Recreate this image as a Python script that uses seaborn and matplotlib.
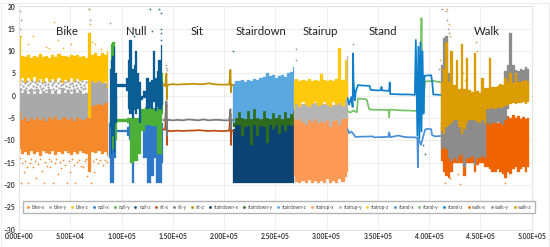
import numpy as np
import pandas as pd
import matplotlib.pyplot as plt
from matplotlib.lines import Line2D
from matplotlib.patches import Rectangle
from matplotlib.ticker import FormatStrFormatter
import seaborn as sns

# -------------------------
# Data
# -------------------------
# bike: envelope of each noisy series
bike_pos = list(range(0, 90000, 3000))
bike_x_lo = [-12, -13, -12.5, -13.2, -12.4, -13, -12.6, -13.4, -12.3, -12.8, -13, -12.4, -13.2, -12.5, -13, -12.3, -12.9, -13.3, -12.5, -13, -12.4, -12.8, -13, -17, -12.5, -12.8, -12.3, -13, -12.5, -13.5]
bike_x_hi = [-3, -3, -3, -3, -3, -3, -3, -3, -3, -3, -3, -3, -3, -3, -3, -3, -3, -3, -3, -3, -3, -3, -3, -3, -1, -1, -1, -1, -1, -1]
bike_y_lo = [-3.5, -5.5, -4.8, -5.6, -5, -5.4, -4.7, -5.5, -5, -5.6, -4.8, -5.3, -4.6, -5.5, -5, -4.7, -5.4, -5, -5.6, -4.8, -5.2, -5.5, -5, -5, -2.2, -2, -1.8, -2.1, -1.6, -1.4]
bike_y_hi = [1.8, 0.6, 1.4, 0.4, 1.2, 0.5, 1.6, 0.4, 1, 0.6, 1.5, 0.5, 1.1, 0.4, 1.7, 0.6, 1.2, 0.5, 1.4, 0.6, 1, 0.5, 0.7, 1, 3.2, 3, 3.3, 3, 2.8, 3]
bike_z_lo = [3, 4, 2.9, 3.9, 3.2, 4.1, 3, 3.8, 2.8, 4, 3.1, 3.7, 3, 4, 2.8, 3.6, 3.1, 4, 3, 3.8, 3.2, 3.6, 3.5, -5, 3.2, 2.8, 3.4, 2.9, 3.1, 1.8]
bike_z_hi = [13.5, 9, 8.6, 9.1, 8.4, 9, 8.7, 9.3, 8.6, 8.9, 8.5, 9.2, 8.7, 9.4, 8.8, 9, 8.6, 9.1, 8.8, 9.2, 8.6, 9, 8.5, 14, 9.2, 9.5, 9, 9.6, 9.2, 10]
# specks in the gap between grey and yellow, and under the orange band
bike_y_speck_x = [600, 1800, 2600, 3700, 4900, 5600, 6800, 7700, 8600, 9800, 10700, 11500, 12900, 13700, 14800, 15600, 16900, 17800, 18500, 19800, 20700, 21600, 22800, 23500, 24900, 25700, 26600, 27900, 28600, 29800, 30500, 31700, 32900, 33600, 34700, 35800, 36500, 37900, 38600, 39800, 40700, 41500, 42800, 43700, 44900, 45600, 46800, 47500, 48900, 49700, 50600, 51800, 52500, 53900, 54700, 55500, 56800, 57700, 58600, 59900, 60800, 61500, 62700, 63800, 64500, 65700]
bike_y_speck_y = [2.6, 1.5, 3.3, 2.1, 1.3, 2.9, 1.8, 3.4, 2.4, 1.2, 2.8, 1.6, 3.2, 2.2, 1.4, 3, 1.9, 2.6, 1.2, 3.4, 2.3, 1.5, 2.9, 1.7, 3.1, 2.5, 1.3, 2.7, 1.9, 3.3, 1.4, 2.4, 2.9, 1.6, 3.4, 2.1, 1.3, 2.8, 1.8, 3.2, 2.4, 1.2, 2.7, 1.6, 3, 2.2, 1.4, 3.3, 1.9, 2.6, 1.3, 2.9, 2.1, 1.5, 3.4, 2.4, 1.7, 3, 1.3, 2.7, 2, 3.3, 1.5, 2.5, 1.8, 3.1]

# null
null_x_pos = [88000, 90000, 92000, 94000, 96000, 104000, 106000, 109000, 111000, 113000, 120000, 122000, 127000, 130000, 133000, 135000, 139000, 140000]
null_x_lo = [-14, -19.6, -19.6, -14, -8.2, -8.2, -9, -10, -19.5, -12, -7, -14, -19.5, -18, -14, -19.5, -19.6, -15]
null_x_hi = [-6, -5, -5, -6, -7.6, -7.6, -7, -6, -6, -6, -6, -6, -6, -6, -6, -6, -6, -6]
null_y_pos = [90000, 92000, 95000, 96000, 104000, 106000, 110000, 114000, 118000, 120000, 125000, 133000, 136000, 139000, 140500]
null_y_lo = [-12, -12, -10, -5.8, -5.8, -6, -15, -14.5, -13, -8, -6.5, -6.8, -13, -13, -4]
null_y_hi = [11.5, 12, 0, -5.2, -5.2, -5, -5, -5, -5, -3, -2.6, -2.8, -2.8, 5, 5]
null_z_pos = [88500, 90000, 91500, 93000, 95000, 96000, 104000, 105500, 107000, 108500, 111000, 112500, 114000, 116000, 118000, 120000, 122000, 125000, 128000, 130000, 132000, 133500, 135000, 137000, 139000, 140000]
null_z_lo = [-7, -13, -9, -12.5, -6, 1.9, 1.9, 1, -3, -4, -5, -3.2, -4, -3, -6, -1, -0.5, -3, -2.8, -3, -1.5, -3.3, -2.5, -3, -3.2, -2]
null_z_hi = [6, 8, 9, 11, 5, 2.7, 2.7, 4, 8, 12.5, 6, 7, 10, 5, 3, 0, 1, 4, 3, 3.5, 10, 4, 5.5, 8, 11.4, 3]

# sit lines, spikes kept as excursions
sit_pos = [140500, 142500, 143800, 144200, 144600, 146000, 150000, 155000, 160000, 165000, 170000, 175000, 180000, 185000, 190000, 195000, 200000, 205000, 206200, 206700, 207200, 209000]
sit_x = [-7.5, -7.6, -2, -11, -7.6, -7.9, -7.9, -7.8, -7.9, -7.8, -7.8, -7.7, -7.8, -7.9, -7.8, -7.9, -7.9, -7.8, -4, -11, -7.8, -7.9]
sit_y = [-5.4, -5.6, -1.2, -9, -5.5, -5.4, -5.5, -5.4, -5.5, -5.3, -5.4, -5.5, -5.3, -5.5, -5.4, -5.4, -5.5, -5.5, -3, -7.5, -5.5, -5.4]
sit_z = [2.5, 2.2, 5, -0.8, 2.3, 2.5, 2.6, 2.5, 2.6, 2.6, 2.7, 2.6, 2.6, 2.8, 2.6, 2.5, 2.5, 2.5, 5.8, 0.8, 2.5, 2.4]

# stairdown
sd_pos = [209000, 212000, 215000, 218000, 221000, 224000, 227000, 230000, 233000, 236000, 239000, 242000, 245000, 248000, 251000, 254000, 257000, 260000, 263000, 266000, 268000]
sd_x_lo = [-19.6] * 21
sd_x_hi = [-7.5, -6, -6.2, -6.5, -6, -6.3, -6.5, -6, -6.5, -6, -6.2, -6.5, -6, -6.3, -6.5, -6.1, -6, -6.3, -6, -6.3, -6]
sd_y_lo = [-7, -6.5, -6.5, -9, -7, -6.8, -11, -6.5, -9, -6.8, -7, -10.5, -6.5, -7.5, -6.5, -8.5, -6.5, -8, -6.5, -6.8, -6.5]
sd_y_hi = [-3, -3, -2.5, -3, -3, -2, -3.5, -1, -3, -3, -1, -3, -3.5, -2, -3, -3, -3, -2.5, -3, -2, -1]
sd_z_lo = [-6, -5, -3.6, -5, -5.2, -3.5, -5.3, -3, -5, -5.2, -3.4, -5, -5.3, -3.8, -5, -4.2, -5.2, -3.6, -5, -4, -3.5]
sd_z_hi = [2.6, 3.3, 3.2, 3.5, 3, 3.6, 3.4, 3.8, 3.5, 4, 4.2, 5, 4.4, 4.6, 4, 4.4, 4.6, 4.3, 5, 5.4, 6.5]

# stairup
su_pos = [268000, 271000, 274000, 277000, 280000, 283000, 286000, 289000, 292000, 295000, 298000, 301000, 304000, 307000, 310000, 313000, 316000, 319000, 320500]
su_x_lo = [-18, -19.4, -19.6, -19, -19.6, -18.8, -19.6, -19, -19.6, -19.2, -19.6, -18.7, -19.6, -19, -19.6, -18.6, -19.4, -18.2, -17]
su_x_hi = [-4] * 19
su_y_lo = [-5, -5.5, -5.3, -5.8, -6.5, -5.5, -5.8, -5.3, -6.2, -5.6, -6, -5.4, -7, -5.6, -5.5, -6.5, -5.3, -5, -5]
su_y_hi = [-1.5, -1.8, -1.6, -1.9, -1.5, -2, -1.7, -1.6, -2, -1.6, -1.9, -1.7, -1.4, -2, -1.6, -1.4, -1.8, -1, 9]
su_z_lo = [-3, -1.8, -2.5, -1.5, -2, -2.6, -1.8, -1.5, -2.3, -2, -1.4, -2, -2.5, -1.5, -2, -1.7, -2.4, -1, -1]
su_z_hi = [3.4, 3.7, 3.2, 3.5, 3.2, 3.8, 3.3, 3.6, 3.4, 4.8, 3.5, 3.2, 3.6, 3.3, 3.7, 10.6, 3.5, 8, 3]

# stand lines
stand_x_pos = [320500, 322000, 324000, 326000, 328000, 345000, 346000, 360000, 361000, 362000, 370000, 375000, 380000, 386000, 388500, 389000, 389500, 392000, 396000, 398000, 402000, 402800, 406000, 411000]
stand_x = [-7.5, -8.4, -8, -8.5, -9.2, -9.1, -9.3, -9.2, -8.2, -9.3, -8.9, -9.2, -9.3, -9.3, -9.5, -16, -9.5, -11, -7.6, -7.4, -7.5, -8.8, -9.1, -9]
stand_y_pos = [320500, 323000, 326000, 329500, 330500, 339000, 341500, 343000, 360500, 361000, 361500, 375000, 380000, 386000, 392000, 392500, 393000, 395000, 396000, 402000, 403000, 411000]
stand_y = [-3.4, -3.8, -3.3, -3.7, -0.6, -0.8, -3, -3.1, -3.2, -4.8, -3.1, -3.3, -3.3, -3.4, -3, 17.4, -3, 1, 3.2, 3.3, 3.4, 3]
stand_z_pos = [320500, 322000, 324000, 325400, 325800, 326200, 327500, 328500, 330500, 335000, 342000, 343000, 351000, 353000, 353500, 354000, 361000, 361500, 362000, 373000, 380000, 386000, 387000, 388500, 389500, 390500, 391500, 392500, 393500, 394500, 395500, 396000, 402000, 403000, 404000, 411000]
stand_z = [-0.5, -2, -0.3, -2.5, 9.5, 3.5, -1, 1, 2.4, 2.3, 2.2, 1.3, 1.2, 1.3, 2, 1.2, 1.1, 3, 0.4, 0.3, 0.3, 0.2, 12.5, -9, 11, -9.5, 12, -8, 10, -4, 4.5, 4.5, 4.6, 3, 0.3, 0.2]

# walk
walk_pos = list(range(412000, 498000, 2500))
walk_x_lo = [-14.5, -17, -18, -18.5, -17, -15, -15, -15, -15, -18, -15, -15, -15, -17, -15.5, -15, -15, -16, -16, -16.5, -17, -17, -16.5, -17, -17.5, -18.5, -17, -17.5, -16.5, -16, -17, -16.5, -16, -17, -16]
walk_x_hi = [-6] * 25 + [-5, -4.5, -5, -4.2, -5, -4.6, -5.2, -4.8, -5.3, -5]
walk_y_lo = [-12, -11.5, -12, -14, -14.5, -14, -14.5, -13.5, -13, -16, -14, -14, -13.5, -15.5, -14, -14, -13.5, -14, -6, -6.5, -6, -6, -5.8, -6, -6.5, -5.5, -3, -1, -1, -1, -1, -1, -1, -1, -1]
walk_y_hi = [7, 13, 13.5, 5, 0, 0, 0, 0, 0, 0, 0, 0, 0, 0, 0, 0, 0, 0, 0, 0, 0, 0, 0, 0, 0, 5.5, 6.8, 14, 7, 5.8, 5.5, 6, 5.8, 6.5, 6]
walk_z_lo = [-8, -8.5, -7, -6.5, -6, -5.5, -5.5, -7, -8.5, -7.5, -6, -5.5, -5.5, -5.5, -5.8, -6, -5.5, -6, -3, -3, -2.8, -3, -2.5, -2.7, -2.5, -2.2, -2, -1.8, -1.7, -1.8, -1.6, -1.7, -1.5, -1.8, -1.5]
walk_z_hi = [3, 6, 12, 3, 10, 2.5, 8, 1.5, 11.5, 1.5, 8.5, 1.2, 0.8, 9.5, 1, 0.6, 4, 1.8, 1.8, 8.5, 2, 2, 2.2, 2.6, 2.4, 4, 3, 5, 2.8, 5, 3, 3, 3.2, 3.6, 3]

# stray points
yellow_pts_x = [2000, 9000, 14000, 26000, 29000, 34000, 38000, 43000, 51000, 68000, 69500, 71000, 74000, 80000]
yellow_pts_y = [13.5, 11.7, 13.5, 11, 10.8, 16.6, 12.5, 10.6, 11.5, 19.5, 16, 12, 11.5, 10.5]
grey_pts_x = [1000, 1000, 1500, 68500, 69000, 89000, 143000, 143500, 144000, 270000, 270500, 325500, 409500, 413000, 416000, 417000, 418000, 415500, 419000]
grey_pts_y = [19, 15, 17, 19.5, 17, 16.3, 7, 6.3, 5.7, 10.5, 8, 11.5, 6, 19.5, 19, 17, 15, 12, 14]
blue_pts_x = [112000, 113000, 128000, 130000, 137000, 138000, 138500, 138500, 138000, 208500, 394000, 396000]
blue_pts_y = [13.5, 15, 19.5, 14.5, 19.5, 18.5, 15, 14, 12.5, 10, -11, -13]
orange_pts_x = [800, 2000, 3400, 5000, 6200, 7800, 9000, 10500, 12000, 14000, 15500, 17000, 18500, 20500, 22000, 24000, 25500, 27000, 28800, 30000, 31500, 33000, 35000, 36500, 38000, 39500, 41000, 43000, 45000, 47000, 48500, 50000, 52000, 53500, 55000, 57000, 59000, 60500, 62000, 64000, 65500, 66500, 68000, 70000, 72000, 73000, 75000, 77000, 79000, 82000, 84000, 86000, 415000, 420000, 428000, 430000, 474000]
orange_pts_y = [-14, -19.6, -15, -17, -14.5, -16, -19.6, -15, -14.2, -16, -14.6, -18.5, -15.2, -14.2, -16.8, -19.6, -14.8, -15.8, -14.2, -16, -14.6, -19.6, -15, -14.2, -17.5, -14.8, -16.2, -14.4, -15.5, -19.6, -14.6, -17, -14.2, -15.4, -19.6, -14.8, -14.3, -15.8, -16, -14.6, -14.2, -18, -15.5, -19.6, -14.6, -17, -14.2, -15, -14.4, -15.5, -14.3, -14.8, -19.6, -18.5, -17.5, -19.7, -19.6]
gold_pts_x = [411000, 412000, 417500, 419000, 420000, 446000, 447000, 433000, 435000]
gold_pts_y = [8, 6, 19.5, 16, 13.5, 12, 10, 5, 3.5]

activity_names = ['Bike', 'Null', 'Sit', 'Stairdown', 'Stairup', 'Stand', 'Walk']
activity_x = [46800, 114000, 173500, 236000, 294000, 354500, 456000]
legend_names = ['bike-x', 'bike-y', 'bike-z', 'null-x', 'null-y', 'null-z', 'sit-x', 'sit-y', 'sit-z',
                'stairdown-x', 'stairdown-y', 'stairdown-z', 'stairup-x', 'stairup-y', 'stairup-z',
                'stand-x', 'stand-y', 'stand-z', 'walk-x', 'walk-y', 'walk-z']
legend_colors = ['#F58A2C', '#A9A9A9', '#FFC000', '#2F78C8', '#4CAF38', '#0B5E95', '#BE4B12', '#7A7A7A', '#BF9000',
                 '#0B4375', '#2F6B1E', '#5AA8E0', '#FF9A56', '#B5B5B5', '#FFC90E',
                 '#4A8FD8', '#74C365', '#0F7FCB', '#F06400', '#8C8C8C', '#DB9C00']
color = dict(zip(legend_names, legend_colors))

# -------------------------
# Plot
# -------------------------
sns.set_style('whitegrid', {'grid.color': '#EBEBEB', 'axes.edgecolor': '#E3E3E3'})
plt.rcParams['font.family'] = ['Lato', 'DejaVu Sans']

fig = plt.figure(figsize=(5.5, 2.47), dpi=100)
ax = fig.add_axes([19 / 550, 1 - 229.7 / 247, 512.7 / 550, 223.2 / 247])


def band(pos, lo, hi, name):
    ax.fill_between(pos, lo, hi, color=color[name], lw=0.2, step='mid', zorder=2)


def line(pos, vals, name, lw=1.25):
    df = pd.DataFrame({'x': pos, 'y': vals})
    sns.lineplot(data=df, x='x', y='y', color=color[name], lw=lw, sort=False, estimator=None, ax=ax, zorder=2.5)


def points(xs, ys, c, s=1.6):
    sns.scatterplot(x=xs, y=ys, color=c, s=s, linewidth=0, ax=ax, zorder=2.2)


points(orange_pts_x, orange_pts_y, color['bike-x'])
points(yellow_pts_x, yellow_pts_y, '#EBB53A')
points(grey_pts_x, grey_pts_y, '#A09A88')
points(blue_pts_x, blue_pts_y, '#2C6E8E')
points(gold_pts_x, gold_pts_y, '#D8A84A')
points(bike_y_speck_x, bike_y_speck_y, color['bike-y'], s=3)

band(bike_pos, bike_x_lo, bike_x_hi, 'bike-x')
band(bike_pos, bike_y_lo, bike_y_hi, 'bike-y')
band(bike_pos, bike_z_lo, bike_z_hi, 'bike-z')

band(null_x_pos, null_x_lo, null_x_hi, 'null-x')
band(null_y_pos, null_y_lo, null_y_hi, 'null-y')
band(null_z_pos, null_z_lo, null_z_hi, 'null-z')

line(sit_pos, sit_x, 'sit-x')
line(sit_pos, sit_y, 'sit-y')
line(sit_pos, sit_z, 'sit-z')

band(sd_pos, sd_x_lo, sd_x_hi, 'stairdown-x')
band(sd_pos, sd_y_lo, sd_y_hi, 'stairdown-y')
band(sd_pos, sd_z_lo, sd_z_hi, 'stairdown-z')

band(su_pos, su_x_lo, su_x_hi, 'stairup-x')
band(su_pos, su_y_lo, su_y_hi, 'stairup-y')
band(su_pos, su_z_lo, su_z_hi, 'stairup-z')

line(stand_x_pos, stand_x, 'stand-x')
line(stand_y_pos, stand_y, 'stand-y')
line(stand_z_pos, stand_z, 'stand-z')

band(walk_pos, walk_x_lo, walk_x_hi, 'walk-x')
band(walk_pos, walk_y_lo, walk_y_hi, 'walk-y')
band(walk_pos, walk_z_lo, walk_z_hi, 'walk-z')

for name, xpos in zip(activity_names, activity_x):
    ax.text(xpos, 14.4, name, ha='center', va='center', fontsize=8.2, color='#222222', zorder=5)

ax.set_xlim(0, 500000)
ax.set_ylim(-30, 20)
ax.set_xticks(np.arange(0, 500001, 50000))
ax.set_yticks(np.arange(-30, 21, 5))
ax.xaxis.set_major_formatter(FormatStrFormatter('%.2E'))
ax.set_xlabel('')
ax.set_ylabel('')
ax.grid(True, lw=0.6)
ax.tick_params(axis='both', length=0, labelsize=4.9, labelcolor='#333333', pad=2.5)
for lab in ax.get_xticklabels() + ax.get_yticklabels():
    lab.set_fontweight('bold')

handles = [Line2D([], [], ls='none', marker='s', ms=0.9, color=c) for c in legend_colors]
ax.legend(handles, legend_names, ncol=21, mode='expand', loc='lower left',
          bbox_to_anchor=(0.008, 0.075, 0.999, 0.04), fontsize=3.4, frameon=True, fancybox=False,
          edgecolor='#B5B5B5', framealpha=1, handlelength=0.6, handletextpad=0.5, columnspacing=0.3,
          borderpad=0.7, borderaxespad=0, labelcolor='#444444')

fig.add_artist(Rectangle((0.002, 0.002), 0.996, 0.985, transform=fig.transFigure, fill=False, ec='#EDEDED', lw=0.7))

fig.savefig('out.png', dpi=100)
